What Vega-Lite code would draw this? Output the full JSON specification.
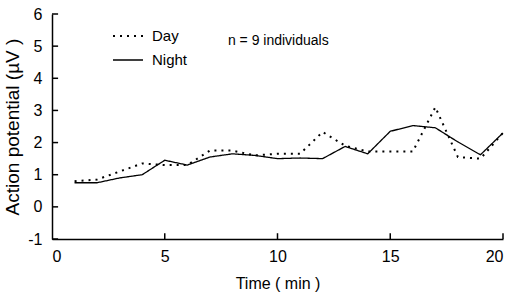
{
  "$schema": "https://vega.github.io/schema/vega-lite/v6.json",
  "width": 451,
  "height": 225,
  "autosize": {"type": "none"},
  "padding": {"left": 52, "top": 14, "right": 6, "bottom": 56},
  "background": "white",
  "config": {
    "font": "Liberation Sans",
    "view": {"stroke": null},
    "axis": {"grid": false, "domainColor": "black", "tickColor": "black", "labelColor": "black", "titleColor": "black", "labelFont": "Liberation Sans", "titleFont": "Liberation Sans", "titleFontWeight": "normal", "labelFontSize": 16, "titleFontSize": 16, "domainWidth": 1.5, "ticks": false, "labelOverlap": false, "labelBound": false}
  },
  "data": {"values": [
    {"t": 1, "v": 0.8, "s": "Day"}, {"t": 2, "v": 0.85, "s": "Day"}, {"t": 3, "v": 1.1, "s": "Day"}, {"t": 4, "v": 1.35, "s": "Day"}, {"t": 5, "v": 1.3, "s": "Day"}, {"t": 6, "v": 1.3, "s": "Day"}, {"t": 7, "v": 1.75, "s": "Day"}, {"t": 8, "v": 1.75, "s": "Day"}, {"t": 9, "v": 1.6, "s": "Day"}, {"t": 10, "v": 1.65, "s": "Day"}, {"t": 11, "v": 1.65, "s": "Day"}, {"t": 12, "v": 2.33, "s": "Day"}, {"t": 13, "v": 1.9, "s": "Day"}, {"t": 14, "v": 1.72, "s": "Day"}, {"t": 15, "v": 1.72, "s": "Day"}, {"t": 16, "v": 1.72, "s": "Day"}, {"t": 17, "v": 3.1, "s": "Day"}, {"t": 18, "v": 1.55, "s": "Day"}, {"t": 19, "v": 1.5, "s": "Day"}, {"t": 20, "v": 2.3, "s": "Day"},
    {"t": 1, "v": 0.75, "s": "Night"}, {"t": 2, "v": 0.75, "s": "Night"}, {"t": 3, "v": 0.9, "s": "Night"}, {"t": 4, "v": 1.0, "s": "Night"}, {"t": 5, "v": 1.45, "s": "Night"}, {"t": 6, "v": 1.3, "s": "Night"}, {"t": 7, "v": 1.55, "s": "Night"}, {"t": 8, "v": 1.65, "s": "Night"}, {"t": 9, "v": 1.6, "s": "Night"}, {"t": 10, "v": 1.5, "s": "Night"}, {"t": 11, "v": 1.52, "s": "Night"}, {"t": 12, "v": 1.5, "s": "Night"}, {"t": 13, "v": 1.88, "s": "Night"}, {"t": 14, "v": 1.65, "s": "Night"}, {"t": 15, "v": 2.35, "s": "Night"}, {"t": 16, "v": 2.53, "s": "Night"}, {"t": 17, "v": 2.46, "s": "Night"}, {"t": 18, "v": 2.02, "s": "Night"}, {"t": 19, "v": 1.62, "s": "Night"}, {"t": 20, "v": 2.3, "s": "Night"}
  ]},
  "layer": [
    {
      "mark": {"type": "line", "color": "black"},
      "encoding": {
        "x": {"field": "t", "type": "quantitative", "scale": {"domain": [0, 20], "nice": false}, "axis": {"values": [0, 5, 10, 15, 20], "tickCount": 20, "labelPadding": 9, "title": "Time ( min )", "titlePadding": 11}},
        "y": {"field": "v", "type": "quantitative", "scale": {"domain": [-1, 6], "nice": false}, "axis": {"values": [-1, 0, 1, 2, 3, 4, 5, 6], "tickCount": 20, "labelPadding": 10, "labelExpr": "datum.value < 0 ? '-' + abs(datum.value) : '' + datum.value", "title": "Action potential (µV )", "titleFontSize": 19, "titlePadding": 5}},
        "strokeDash": {"field": "s", "type": "nominal", "scale": {"domain": ["Day", "Night"], "range": [[2, 5], [1, 0]]},
          "legend": {"orient": "none", "legendX": 60, "legendY": 6, "title": null, "symbolType": "stroke", "symbolSize": 900, "symbolStrokeWidth": 2, "symbolStrokeColor": "black", "labelFontSize": 15, "labelFont": "Liberation Sans", "labelColor": "black", "rowPadding": 0, "labelOffset": 8}},
        "strokeWidth": {"field": "s", "type": "nominal", "scale": {"domain": ["Day", "Night"], "range": [2, 1.3]}, "legend": null}
      }
    },
    {
      "data": {"values": [{"v": -1}, {"v": 0}, {"v": 1}, {"v": 2}, {"v": 3}, {"v": 4}, {"v": 5}, {"v": 6}]},
      "mark": {"type": "rule", "color": "black", "strokeWidth": 1.5},
      "encoding": {
        "y": {"field": "v", "type": "quantitative"},
        "x": {"datum": 0},
        "x2": {"datum": 0.27}
      }
    },
    {
      "data": {"values": [{"t": 5}, {"t": 10}, {"t": 15}, {"t": 20}]},
      "mark": {"type": "rule", "color": "black", "strokeWidth": 1.5},
      "encoding": {
        "x": {"field": "t", "type": "quantitative"},
        "y": {"datum": -1},
        "y2": {"datum": -0.82}
      }
    },
    {
      "data": {"values": [{"t": 7.8, "v": 5.15, "label": "n = 9 individuals"}]},
      "mark": {"type": "text", "align": "left", "baseline": "middle", "fontSize": 14, "font": "Liberation Sans", "color": "black"},
      "encoding": {
        "x": {"field": "t", "type": "quantitative"},
        "y": {"field": "v", "type": "quantitative"},
        "text": {"field": "label"}
      }
    }
  ]
}
